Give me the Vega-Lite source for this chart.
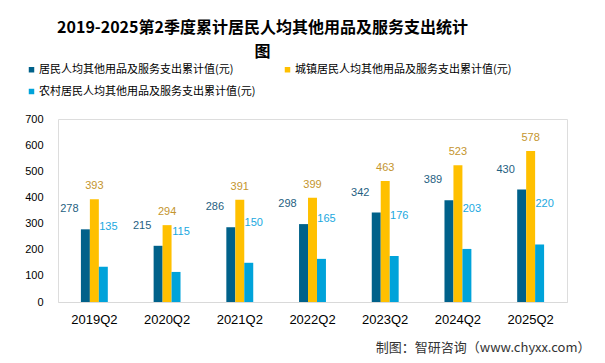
{
  "$schema": "https://vega.github.io/schema/vega-lite/v6.json",
  "width": 509,
  "height": 183,
  "autosize": {"type": "none"},
  "padding": {"left": 58, "top": 119, "right": 38, "bottom": 61},
  "background": "white",
  "title": {
    "text": ["2019-2025第2季度累计居民人均其他用品及服务支出统计", "图"],
    "font": "Noto Sans CJK SC",
    "fontSize": 16,
    "fontWeight": "bold",
    "color": "#000000",
    "lineHeight": 24,
    "anchor": "middle",
    "frame": "group",
    "dx": -50
  },
  "data": {
    "values": [
      {"year": "2019Q2", "series": "居民人均其他用品及服务支出累计值(元)", "value": 278},
      {"year": "2019Q2", "series": "城镇居民人均其他用品及服务支出累计值(元)", "value": 393},
      {"year": "2019Q2", "series": "农村居民人均其他用品及服务支出累计值(元)", "value": 135},
      {"year": "2020Q2", "series": "居民人均其他用品及服务支出累计值(元)", "value": 215},
      {"year": "2020Q2", "series": "城镇居民人均其他用品及服务支出累计值(元)", "value": 294},
      {"year": "2020Q2", "series": "农村居民人均其他用品及服务支出累计值(元)", "value": 115},
      {"year": "2021Q2", "series": "居民人均其他用品及服务支出累计值(元)", "value": 286},
      {"year": "2021Q2", "series": "城镇居民人均其他用品及服务支出累计值(元)", "value": 391},
      {"year": "2021Q2", "series": "农村居民人均其他用品及服务支出累计值(元)", "value": 150},
      {"year": "2022Q2", "series": "居民人均其他用品及服务支出累计值(元)", "value": 298},
      {"year": "2022Q2", "series": "城镇居民人均其他用品及服务支出累计值(元)", "value": 399},
      {"year": "2022Q2", "series": "农村居民人均其他用品及服务支出累计值(元)", "value": 165},
      {"year": "2023Q2", "series": "居民人均其他用品及服务支出累计值(元)", "value": 342},
      {"year": "2023Q2", "series": "城镇居民人均其他用品及服务支出累计值(元)", "value": 463},
      {"year": "2023Q2", "series": "农村居民人均其他用品及服务支出累计值(元)", "value": 176},
      {"year": "2024Q2", "series": "居民人均其他用品及服务支出累计值(元)", "value": 389},
      {"year": "2024Q2", "series": "城镇居民人均其他用品及服务支出累计值(元)", "value": 523},
      {"year": "2024Q2", "series": "农村居民人均其他用品及服务支出累计值(元)", "value": 203},
      {"year": "2025Q2", "series": "居民人均其他用品及服务支出累计值(元)", "value": 430},
      {"year": "2025Q2", "series": "城镇居民人均其他用品及服务支出累计值(元)", "value": 578},
      {"year": "2025Q2", "series": "农村居民人均其他用品及服务支出累计值(元)", "value": 220}
    ]
  },
  "encoding": {
    "x": {
      "field": "year",
      "type": "nominal",
      "scale": {"paddingInner": 0.63, "paddingOuter": 0.315},
      "axis": {
        "labelAngle": 0,
        "labelFont": "Liberation Sans",
        "labelFontSize": 13,
        "labelColor": "#000000",
        "labelPadding": 11,
        "ticks": false,
        "domainColor": "#d9d9d9",
        "title": "制图：智研咨询（www.chyxx.com）",
        "titleFont": "Noto Sans CJK SC",
        "titleFontSize": 13,
        "titleFontWeight": "normal",
        "titleColor": "#333333",
        "titleAnchor": "end",
        "titleAlign": "right",
        "titleBaseline": "middle",
        "titleX": 532,
        "titleY": 45
      }
    },
    "xOffset": {
      "field": "series",
      "type": "nominal",
      "sort": ["居民人均其他用品及服务支出累计值(元)", "城镇居民人均其他用品及服务支出累计值(元)", "农村居民人均其他用品及服务支出累计值(元)"],
      "scale": {"paddingInner": 0, "paddingOuter": 0}
    },
    "y": {
      "field": "value",
      "type": "quantitative",
      "scale": {"domain": [0, 700]},
      "axis": {
        "values": [0, 100, 200, 300, 400, 500, 600, 700],
        "domain": false,
        "ticks": false,
        "grid": false,
        "title": null,
        "labelFont": "Liberation Sans",
        "labelFontSize": 11,
        "labelColor": "#000000",
        "labelPadding": 15
      }
    }
  },
  "layer": [
    {
      "mark": {"type": "bar"},
      "encoding": {
        "color": {
          "field": "series",
          "type": "nominal",
          "scale": {
            "domain": ["居民人均其他用品及服务支出累计值(元)", "城镇居民人均其他用品及服务支出累计值(元)", "农村居民人均其他用品及服务支出累计值(元)"],
            "range": ["#00618a", "#ffc000", "#00a3da"]
          },
          "legend": {
            "title": null,
            "orient": "none",
            "direction": "horizontal",
            "legendX": -32,
            "legendY": -55,
            "columns": 2,
            "columnPadding": 26,
            "rowPadding": 10,
            "symbolType": "square",
            "symbolSize": 30,
            "symbolStrokeWidth": 0,
            "labelFont": "Noto Sans CJK SC",
            "labelFontSize": 11,
            "labelColor": "#000000",
            "labelLimit": 0,
            "labelOffset": 2
          }
        }
      }
    },
    {
      "transform": [{"filter": "datum.series === '居民人均其他用品及服务支出累计值(元)'"}],
      "mark": {"type": "text", "dx": -16, "dy": -20, "font": "Liberation Sans", "fontSize": 11, "color": "#1f5f82", "baseline": "middle"},
      "encoding": {"text": {"field": "value", "type": "quantitative"}}
    },
    {
      "transform": [{"filter": "datum.series === '城镇居民人均其他用品及服务支出累计值(元)'"}],
      "mark": {"type": "text", "dy": -13, "font": "Liberation Sans", "fontSize": 11, "color": "#c4952e", "baseline": "middle"},
      "encoding": {"text": {"field": "value", "type": "quantitative"}}
    },
    {
      "transform": [{"filter": "datum.series === '农村居民人均其他用品及服务支出累计值(元)'"}],
      "mark": {"type": "text", "dx": 5, "dy": -40, "font": "Liberation Sans", "fontSize": 11, "color": "#1aa8e0", "baseline": "middle"},
      "encoding": {"text": {"field": "value", "type": "quantitative"}}
    }
  ]
}
